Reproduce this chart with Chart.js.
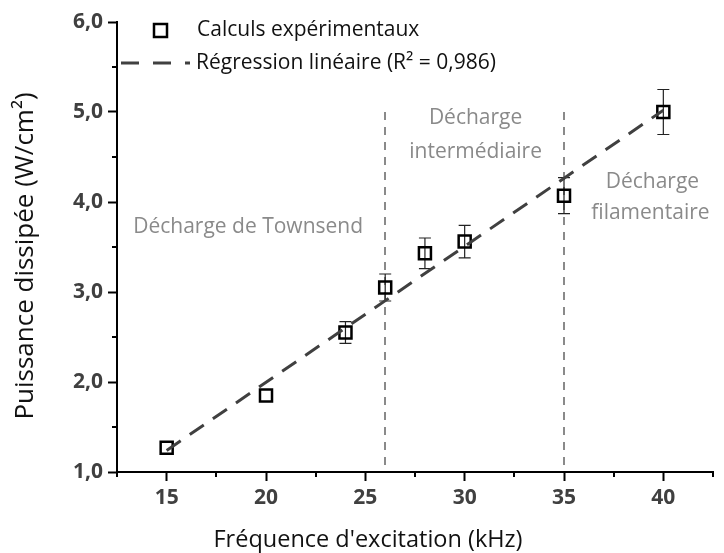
<!DOCTYPE html>
<html>
<head>
<meta charset="utf-8">
<script src="https://cdn.jsdelivr.net/npm/chart.js@4/dist/chart.umd.min.js"></script>
<style>
  html, body { margin: 0; padding: 0; background: #fff; }
</style>
</head>
<body>
<canvas id="powerChart" width="724" height="553"></canvas>
<script>
// data
const frequencies = [15, 20, 24, 26, 28, 30, 35, 40];
const powerValues = [1.27, 1.85, 2.55, 3.05, 3.43, 3.56, 4.07, 5.00];
const powerErrors = [0, 0, 0.12, 0.15, 0.17, 0.18, 0.20, 0.25];
const fitFrequencies = [15, 40];
const fitValues = [1.24, 5.02];
const regimeBounds = [26, 35];
const regimeTop = 5.0;
const xMajorTicks = [15, 20, 25, 30, 35, 40];
const xMinorTicks = [12.5, 17.5, 22.5, 27.5, 32.5, 37.5, 42.5];
const yMajorTicks = [1, 2, 3, 4, 5, 6];
const yMinorTicks = [1.5, 2.5, 3.5, 4.5, 5.5];

const FONT = "'Open Sans', 'DejaVu Sans', sans-serif";
const fmt = v => v.toFixed(1).replace('.', ',');

const extras = {
  id: 'extras',
  beforeDatasetsDraw(chart) {
    const ctx = chart.ctx;
    const x = chart.scales.x, y = chart.scales.y;
    ctx.save();
    // regime separators
    ctx.strokeStyle = '#8a8a8a';
    ctx.lineWidth = 2;
    ctx.setLineDash([8, 7]);
    regimeBounds.forEach(b => {
      const px = Math.round(x.getPixelForValue(b));
      ctx.beginPath();
      ctx.moveTo(px, y.getPixelForValue(regimeTop));
      ctx.lineTo(px, y.getPixelForValue(1));
      ctx.stroke();
    });
    ctx.setLineDash([]);
    // error bars
    ctx.strokeStyle = '#222';
    ctx.lineWidth = 1.2;
    frequencies.forEach((f, i) => {
      const e = powerErrors[i];
      if (!e) return;
      const px = x.getPixelForValue(f);
      const top = y.getPixelForValue(powerValues[i] + e);
      const bot = y.getPixelForValue(powerValues[i] - e);
      ctx.beginPath();
      ctx.moveTo(px, top); ctx.lineTo(px, bot);
      ctx.moveTo(px - 6, top); ctx.lineTo(px + 6, top);
      ctx.moveTo(px - 6, bot); ctx.lineTo(px + 6, bot);
      ctx.stroke();
    });
    // regime labels
    ctx.fillStyle = '#8a8a8a';
    ctx.font = '21px ' + FONT;
    ctx.textAlign = 'center';
    ctx.textBaseline = 'middle';
    ctx.fillText('Décharge de Townsend', x.getPixelForValue(19.1), y.getPixelForValue(3.72));
    ctx.fillText('Décharge', x.getPixelForValue(30.55), y.getPixelForValue(4.93));
    ctx.fillText('intermédiaire', x.getPixelForValue(30.55), y.getPixelForValue(4.56));
    ctx.fillText('Décharge', x.getPixelForValue(39.45), y.getPixelForValue(4.22));
    ctx.fillText('filamentaire', x.getPixelForValue(39.35), y.getPixelForValue(3.88));
    ctx.restore();
  },
  afterDraw(chart) {
    const ctx = chart.ctx;
    const x = chart.scales.x, y = chart.scales.y;
    const ax = chart.chartArea.left, ay = chart.chartArea.bottom;
    ctx.save();
    // minor ticks
    ctx.strokeStyle = '#000';
    ctx.lineWidth = 2;
    ctx.beginPath();
    xMinorTicks.forEach(v => {
      const px = Math.round(x.getPixelForValue(v));
      ctx.moveTo(px, ay); ctx.lineTo(px, ay + 5);
    });
    yMinorTicks.forEach(v => {
      const py = Math.round(y.getPixelForValue(v));
      ctx.moveTo(ax, py); ctx.lineTo(ax - 5, py);
    });
    ctx.stroke();

    // legend
    const ds = chart.data.datasets;
    ctx.lineWidth = 2.5;
    ctx.strokeStyle = '#000';
    ctx.strokeRect(154, 24, 13, 13);
    ctx.strokeStyle = '#404040';
    ctx.lineWidth = 3;
    ctx.setLineDash([18, 14]);
    ctx.beginPath();
    ctx.moveTo(121, 63); ctx.lineTo(190, 63);
    ctx.stroke();
    ctx.setLineDash([]);
    ctx.fillStyle = '#111';
    ctx.font = '21px ' + FONT;
    ctx.textAlign = 'left';
    ctx.textBaseline = 'middle';
    ctx.fillText(ds[0].label, 197, 30);
    ctx.fillText(ds[1].label, 196, 63);

    // axis titles
    ctx.font = '23.5px ' + FONT;
    ctx.textAlign = 'center';
    ctx.fillText("Fréquence d'excitation (kHz)", 368, 540);
    ctx.translate(26, 256);
    ctx.rotate(-Math.PI / 2);
    ctx.font = '26px ' + FONT;
    ctx.fillText('Puissance dissipée (W/cm²)', 0, 0);
    ctx.restore();
  }
};

new Chart(document.getElementById('powerChart').getContext('2d'), {
  type: 'scatter',
  data: {
    datasets: [{
      label: 'Calculs expérimentaux',
      data: frequencies.map((f, i) => ({ x: f, y: powerValues[i] })),
      pointStyle: 'rect',
      pointRadius: 8.5,
      pointBorderWidth: 2.5,
      borderColor: '#000',
      backgroundColor: 'rgba(0,0,0,0)',
      clip: false,
      order: 1
    }, {
      label: 'Régression linéaire (R² = 0,986)',
      type: 'line',
      data: fitFrequencies.map((f, i) => ({ x: f, y: fitValues[i] })),
      borderColor: '#404040',
      borderWidth: 3,
      borderDash: [17, 11],
      pointRadius: 0,
      fill: false,
      order: 0
    }]
  },
  options: {
    responsive: false,
    animation: false,
    events: [],
    layout: { padding: { top: 22, right: 2, left: 0, bottom: 0 } },
    plugins: {
      legend: { display: false },
      tooltip: { enabled: false }
    },
    scales: {
      x: {
        type: 'linear',
        min: 12.5,
        max: 42.5,
        afterBuildTicks: s => { s.ticks = xMajorTicks.map(v => ({ value: v })); },
        afterFit: s => { s.height = 81; },
        border: { color: '#000', width: 2 },
        grid: { drawOnChartArea: false, drawTicks: true, tickLength: 9, tickWidth: 2, tickColor: '#000' },
        ticks: {
          color: '#404040',
          padding: 4,
          maxRotation: 0,
          font: { family: FONT, size: 21, weight: 'bold' },
          callback: v => String(v)
        }
      },
      y: {
        type: 'linear',
        min: 1,
        max: 6,
        afterBuildTicks: s => { s.ticks = yMajorTicks.map(v => ({ value: v })); },
        afterFit: s => { s.width = 117; },
        border: { color: '#000', width: 2 },
        grid: { drawOnChartArea: false, drawTicks: true, tickLength: 9, tickWidth: 2, tickColor: '#000' },
        ticks: {
          color: '#404040',
          padding: 5,
          font: { family: FONT, size: 21, weight: 'bold' },
          callback: v => fmt(v)
        }
      }
    }
  },
  plugins: [extras]
});
</script>
</body>
</html>
